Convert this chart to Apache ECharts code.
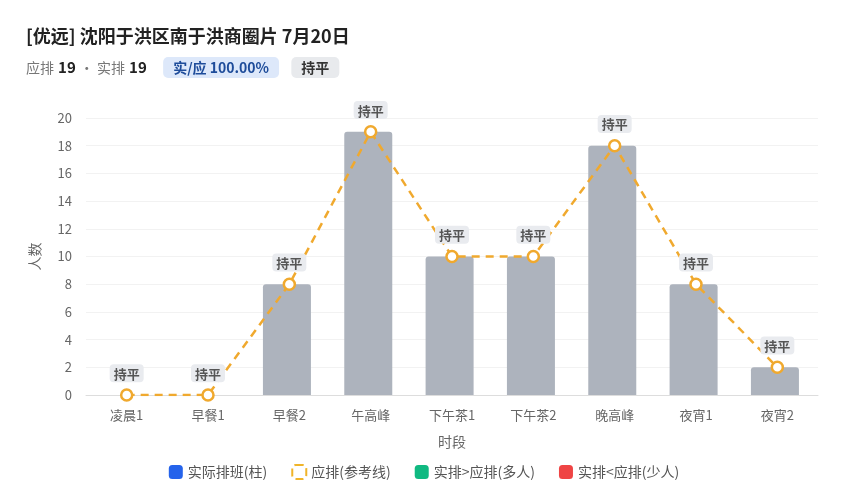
<!DOCTYPE html>
<html>
<head>
<meta charset="utf-8">
<script src="https://cdn.jsdelivr.net/npm/echarts@6/dist/echarts.min.js"></script>
<style>
  html, body { margin: 0; padding: 0; background: #fff; }
  #chart { width: 848px; height: 500px; }
</style>
</head>
<body>
<div id="chart"></div>
<script>
// 时段、实排、应排
const slots = ['凌晨1', '早餐1', '早餐2', '午高峰', '下午茶1', '下午茶2', '晚高峰', '夜宵1', '夜宵2'];
const actual = [0, 0, 8, 19, 10, 10, 18, 8, 2];
const planned = [0, 0, 8, 19, 10, 10, 18, 8, 2];
const yTicks = [0, 2, 4, 6, 8, 10, 12, 14, 16, 18, 20];

const font = 'Noto Sans CJK SC';

function statusOf(i) {
    if (actual[i] > planned[i]) return '多' + (actual[i] - planned[i]);
    if (actual[i] < planned[i]) return '少' + (planned[i] - actual[i]);
    return '持平';
}

function barColor(i) {
    if (actual[i] > planned[i]) return '#10b981';
    if (actual[i] < planned[i]) return '#ef4444';
    return '#adb3bd';
}

window.addEventListener('load', function () {
    let myChart = echarts.init(document.getElementById('chart'));

    let option = {
        textStyle: { fontFamily: font },
        title: [{
            text: '[优远] 沈阳于洪区南于洪商圈片 7月20日',
            left: 21,
            top: 22,
            textStyle: { fontSize: 18, fontWeight: 'bold', color: '#222', fontFamily: font }
        }, {
            text: '{l|应排} {v|19} {l|· 实排} {v|19}    {b1|实/应 100.00%}   {b2|持平}',
            left: 21,
            top: 52,
            textStyle: {
                fontFamily: font,
                rich: {
                    l: { fontSize: 14, color: '#777', fontWeight: 'normal', fontFamily: font },
                    v: { fontSize: 15, color: '#222', fontWeight: 'bold', fontFamily: font },
                    b1: {
                        fontSize: 14, color: '#1e4c9a', fontWeight: 'bold', fontFamily: font,
                        backgroundColor: '#dde8fa', borderRadius: 5, padding: [4, 10, 3, 10]
                    },
                    b2: {
                        fontSize: 14, color: '#333', fontWeight: 'bold', fontFamily: font,
                        backgroundColor: '#e8eaed', borderRadius: 5, padding: [4, 10, 3, 10]
                    }
                }
            }
        }],
        legend: {
            bottom: 15,
            left: 'center',
            itemWidth: 14,
            itemHeight: 14,
            itemGap: 24,
            textStyle: { fontSize: 14, color: '#555', fontFamily: font },
            data: [
                { name: '实际排班(柱)', icon: 'roundRect', itemStyle: { color: '#2563eb' } },
                {
                    name: '应排(参考线)', icon: 'roundRect',
                    itemStyle: { color: 'transparent', borderColor: '#f0b429', borderWidth: 2, borderType: 'dashed' },
                    lineStyle: { width: 0 }
                },
                { name: '实排>应排(多人)', icon: 'roundRect', itemStyle: { color: '#10b981' } },
                { name: '实排<应排(少人)', icon: 'roundRect', itemStyle: { color: '#ef4444' } }
            ]
        },
        grid: {
            left: 86,
            right: 30,
            top: 118,
            bottom: 105
        },
        xAxis: {
            type: 'category',
            data: slots,
            name: '时段',
            nameLocation: 'middle',
            nameGap: 40,
            nameTextStyle: { color: '#666', fontSize: 14 },
            axisLine: { lineStyle: { color: '#ddd' } },
            axisTick: { show: false },
            axisLabel: { color: '#666', fontSize: 13, margin: 14 }
        },
        yAxis: {
            type: 'value',
            min: yTicks[0],
            max: yTicks[yTicks.length - 1],
            interval: 2,
            name: '人数',
            nameLocation: 'middle',
            nameGap: 44,
            nameTextStyle: { color: '#666', fontSize: 14 },
            axisLine: { show: false },
            axisTick: { show: false },
            axisLabel: { color: '#666', fontSize: 13, margin: 14 },
            splitLine: { lineStyle: { color: '#f2f2f2' } }
        },
        series: [{
            name: '实际排班(柱)',
            type: 'bar',
            barWidth: 48,
            data: actual.map(function (v, i) {
                return { value: v, itemStyle: { color: barColor(i) } };
            }),
            itemStyle: { color: '#2563eb', borderRadius: [3, 3, 0, 0] },
            z: 2
        }, {
            name: '应排(参考线)',
            type: 'line',
            data: planned,
            symbol: 'circle',
            symbolSize: 11,
            lineStyle: { color: '#f0a92e', width: 2.5, type: [8, 6] },
            itemStyle: { color: '#fff', borderColor: '#f0a92e', borderWidth: 2.5 },
            label: {
                show: true,
                position: 'top',
                distance: 6,
                formatter: function (p) { return statusOf(p.dataIndex); },
                fontSize: 13,
                fontWeight: 'bold',
                color: '#555',
                backgroundColor: '#e9ebef',
                borderRadius: 4,
                padding: [3, 4, 2, 4]
            },
            z: 3
        }, {
            name: '实排>应排(多人)',
            type: 'bar',
            data: [],
            itemStyle: { color: '#10b981' }
        }, {
            name: '实排<应排(少人)',
            type: 'bar',
            data: [],
            itemStyle: { color: '#ef4444' }
        }]
    };
    myChart.setOption(option);
});
</script>
</body>
</html>
